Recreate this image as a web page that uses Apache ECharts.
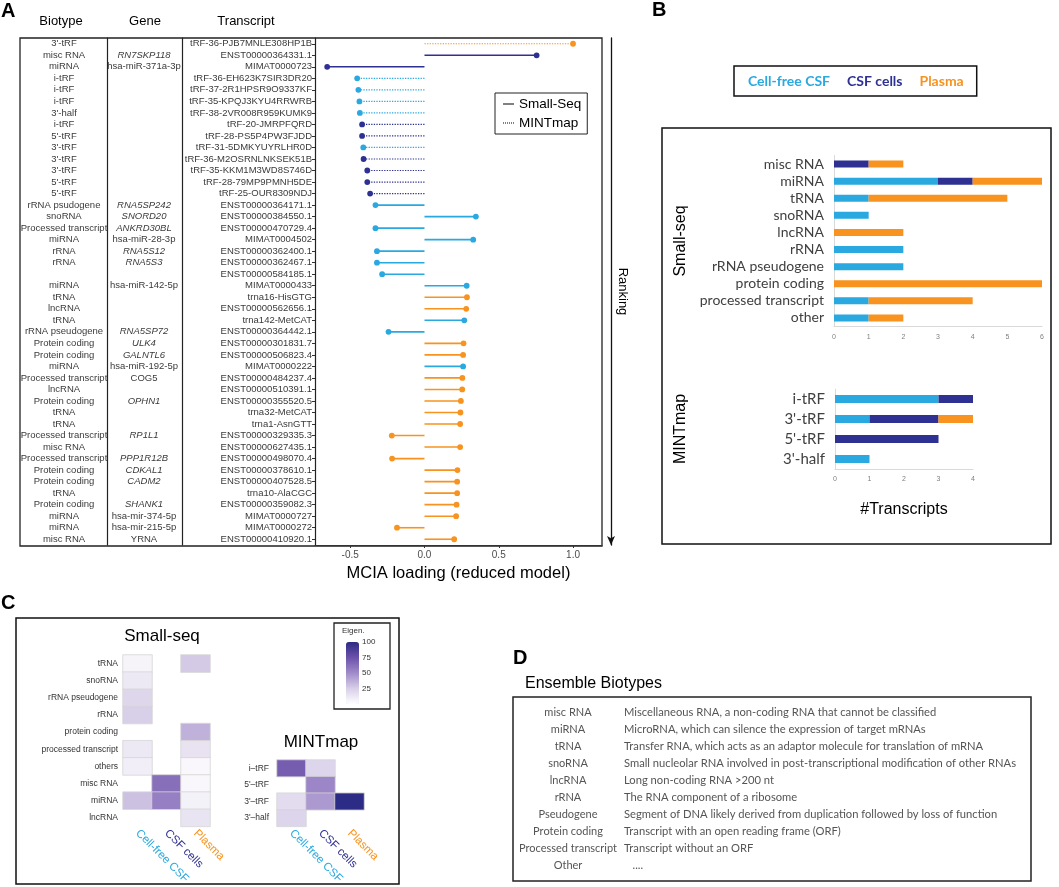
<!DOCTYPE html>
<html><head><meta charset="utf-8">
<script src="https://cdn.jsdelivr.net/npm/echarts@6/dist/echarts.min.js"></script>
<style>html,body{margin:0;padding:0;background:#fff}#c{width:1059px;height:887px}</style>
</head><body><div id="c"></div>
<script>
// ---------- Panel A data (top to bottom ranking) ----------
const biotypes = ["3'-tRF","misc RNA","miRNA","i-tRF","i-tRF","i-tRF","3'-half","i-tRF","5'-tRF","3'-tRF","3'-tRF","3'-tRF","5'-tRF","5'-tRF",
  "rRNA psudogene","snoRNA","Processed transcript","miRNA","rRNA","rRNA","","miRNA","tRNA","lncRNA","tRNA","rRNA pseudogene",
  "Protein coding","Protein coding","miRNA","Processed transcript","lncRNA","Protein coding","tRNA","tRNA","Processed transcript",
  "misc RNA","Processed transcript","Protein coding","Protein coding","tRNA","Protein coding","miRNA","miRNA","misc RNA"];
const genes = ["","RN7SKP118","hsa-miR-371a-3p","","","","","","","","","","","",
  "RNA5SP242","SNORD20","ANKRD30BL","hsa-miR-28-3p","RNA5S12","RNA5S3","","hsa-miR-142-5p","","","","RNA5SP72",
  "ULK4","GALNTL6","hsa-miR-192-5p","COG5","","OPHN1","","","RP1L1",
  "","PPP1R12B","CDKAL1","CADM2","","SHANK1","hsa-mir-374-5p","hsa-mir-215-5p","YRNA"];
const transcripts = ["tRF-36-PJB7MNLE308HP1B","ENST00000364331.1","MIMAT0000723","tRF-36-EH623K7SIR3DR20","tRF-37-2R1HPSR9O9337KF",
  "tRF-35-KPQJ3KYU4RRWRB","tRF-38-2VR008R959KUMK9","tRF-20-JMRPFQRD","tRF-28-PS5P4PW3FJDD","tRF-31-5DMKYUYRLHR0D",
  "tRF-36-M2OSRNLNKSEK51B","tRF-35-KKM1M3WD8S746D","tRF-28-79MP9PMNH5DE","tRF-25-OUR8309NDJ",
  "ENST00000364171.1","ENST00000384550.1","ENST00000470729.4","MIMAT0004502","ENST00000362400.1","ENST00000362467.1",
  "ENST00000584185.1","MIMAT0000433","trna16-HisGTG","ENST00000562656.1","trna142-MetCAT","ENST00000364442.1",
  "ENST00000301831.7","ENST00000506823.4","MIMAT0000222","ENST00000484237.4","ENST00000510391.1","ENST00000355520.5",
  "trna32-MetCAT","trna1-AsnGTT","ENST00000329335.3","ENST00000627435.1","ENST00000498070.4","ENST00000378610.1",
  "ENST00000407528.5","trna10-AlaCGC","ENST00000359082.3","MIMAT0000727","MIMAT0000272","ENST00000410920.1"];
const loadings = [1.00,0.755,-0.655,-0.453,-0.445,-0.438,-0.435,-0.42,-0.42,-0.412,-0.41,-0.385,-0.385,-0.366,
  -0.33,0.346,-0.33,0.328,-0.32,-0.32,-0.285,0.284,0.286,0.281,0.268,-0.242,
  0.263,0.26,0.26,0.255,0.254,0.245,0.242,0.24,-0.22,0.24,-0.218,0.222,0.22,0.22,0.216,0.213,-0.185,0.20];
const sources = ["Plasma","CSF cells","CSF cells","Cell-free CSF","Cell-free CSF","Cell-free CSF","Cell-free CSF","CSF cells","CSF cells",
  "Cell-free CSF","CSF cells","CSF cells","CSF cells","CSF cells",
  "Cell-free CSF","Cell-free CSF","Cell-free CSF","Cell-free CSF","Cell-free CSF","Cell-free CSF","Cell-free CSF","Cell-free CSF",
  "Plasma","Plasma","Cell-free CSF","Cell-free CSF","Plasma","Plasma","Cell-free CSF","Plasma","Plasma","Plasma","Plasma","Plasma",
  "Plasma","Plasma","Plasma","Plasma","Plasma","Plasma","Plasma","Plasma","Plasma","Plasma"];
const methods = ["MINTmap","Small-Seq","Small-Seq","MINTmap","MINTmap","MINTmap","MINTmap","MINTmap","MINTmap","MINTmap","MINTmap",
  "MINTmap","MINTmap","MINTmap"].concat(new Array(30).fill("Small-Seq"));
const italicGenes = ["RN7SKP118","RNA5SP242","SNORD20","ANKRD30BL","RNA5S12","RNA5S3","RNA5SP72","ULK4","GALNTL6","OPHN1",
  "RP1L1","PPP1R12B","CDKAL1","CADM2","SHANK1"];
const loadingTicks = [-0.5, 0, 0.5, 1.0];

// ---------- Panel B data ----------
const sampleTypes = ["Cell-free CSF","CSF cells","Plasma"];
const smallSeqCats = ["misc RNA","miRNA","tRNA","snoRNA","lncRNA","rRNA","rRNA pseudogene","protein coding","processed transcript","other"];
const smallSeqCF     = [0,3,1,1,0,2,2,0,1,1];
const smallSeqCells  = [1,1,0,0,0,0,0,0,0,0];
const smallSeqPlasma = [1,2,4,0,2,0,0,6,3,1];
const mintCats = ["i-tRF","3'-tRF","5'-tRF","3'-half"];
const mintCF     = [3,1,0,1];
const mintCells  = [1,2,3,0];
const mintPlasma = [0,1,0,0];

// ---------- Panel C data (eigen values, 0-100) ----------
const heatSmallRows = ["tRNA","snoRNA","rRNA pseudogene","rRNA","protein coding","processed transcript","others","misc RNA","miRNA","lncRNA"];
const heatSmallCF     = [6,12,21,25,null,12,9,null,30,null];
const heatSmallCells  = [null,null,null,null,null,null,null,62,55,null];
const heatSmallPlasma = [27,null,null,null,36,15,4,4,7,14];
const heatMintRows = ["i\u2013tRF","5'\u2013tRF","3'\u2013tRF","3'\u2013half"];
const heatMintCF     = [70,null,18,22];
const heatMintCells  = [22,52,45,null];
const heatMintPlasma = [null,null,100,null];

// ---------- Panel D data ----------
const ensTypes = ["misc RNA","miRNA","tRNA","snoRNA","lncRNA","rRNA","Pseudogene","Protein coding","Processed transcript","Other"];
const ensDesc = ["Miscellaneous RNA, a non-coding RNA that cannot be classified",
  "MicroRNA, which can silence the expression of target mRNAs",
  "Transfer RNA, which acts as an adaptor molecule for translation of mRNA",
  "Small nucleolar RNA involved in post-transcriptional modification of other RNAs",
  "Long non-coding RNA >200 nt",
  "The RNA component of a ribosome",
  "Segment of DNA likely derived from duplication followed by loss of function",
  "Transcript with an open reading frame (ORF)",
  "Transcript without an ORF",
  "   ...."];

// ---------- styling ----------
const COL = {"Cell-free CSF":"#2aa8e0","CSF cells":"#2e3192","Plasma":"#f7931e"};
const ARIAL = "'Liberation Sans', Arial, sans-serif";
const CAL = "Lato, 'Open Sans', sans-serif";
const SOLID_ICON = 'path://M0,0H11V1H0Z';
const DOT_ICON = 'path://M0,0h1v1h-1zM2,0h1v1h-1zM4,0h1v1h-1zM6,0h1v1h-1zM8,0h1v1h-1zM10,0h1v1h-1z';

function heatData(cols){
  const out=[];
  cols.forEach((arr,c)=>arr.forEach((v,r)=>{ if(v!=null) out.push([c,r,v]); }));
  return out;
}
function ttl(text,left,top,size,extra){
  return Object.assign({text:text,left:left,top:top,padding:0,
    textStyle:{fontSize:size,fontWeight:'normal',color:'#000',fontFamily:ARIAL}}, extra||{});
}

const chart = echarts.init(document.getElementById('c'));
const hidden = {show:false};
const noLine = {show:false, onZero:false};
const bold = {textStyle:{fontSize:20,fontWeight:'bold',color:'#000',fontFamily:ARIAL}};

const option = {
  animation:false,
  backgroundColor:'#fff',
  textStyle:{fontFamily:ARIAL},
  title:[
    ttl('A',1,1,20,bold),
    ttl('B',652,0,20,bold),
    ttl('C',1,593,20,bold),
    ttl('D',513,648,20,bold),
    ttl('Biotype',61,15,13,{textAlign:'center'}),
    ttl('Gene',145,15,13,{textAlign:'center'}),
    ttl('Transcript',246,15,13,{textAlign:'center'}),
    ttl('Small-seq',162,628,17,{textAlign:'center'}),
    ttl('MINTmap',321,734,17,{textAlign:'center'}),
    ttl('Eigen.',342,627,8,{textStyle:{fontSize:8,fontWeight:'normal',color:'#333',fontFamily:ARIAL}}),
    ttl('Ensemble Biotypes',525,676,16)
  ],
  legend:[
    {data:[{name:'Small-Seq',icon:SOLID_ICON},{name:'MINTmap',icon:DOT_ICON}], left:495, top:93, orient:'vertical', selectedMode:false,
     borderColor:'#222', borderWidth:1, padding:[4,6,4,8], itemGap:5, itemWidth:11, itemHeight:1.4,
     textStyle:{fontSize:13.5,color:'#000',fontFamily:ARIAL}},
    {data:sampleTypes.map(n=>({name:n, textStyle:{color:COL[n]}})), left:734, top:66, selectedMode:false,
     icon:'none', itemWidth:0, itemHeight:0, itemGap:12,
     borderColor:'#111', borderWidth:1.5, padding:[8,13,8,9],
     textStyle:{fontSize:14,fontWeight:'bold',fontFamily:CAL}}
  ],
  grid:[
    {left:315, right:457, top:38, height:507},           // A
    {left:834, width:208, top:155.5, height:171},        // B small-seq
    {left:835, width:138, top:389, height:80},           // B MINTmap
    {left:123, width:87, top:655, height:175},           // C small-seq
    {left:277, width:87, top:760, height:70},            // C MINTmap
    {left:346, width:13, top:642, height:62},            // C colour legend axis
    {left:513, width:400, top:703.5, height:170}         // D
  ],
  xAxis:[
    {gridIndex:0, type:'value', min:-0.737, max:1.195,
     axisLine:{show:true,onZero:false,lineStyle:{color:'#333',width:1.2}},
     axisTick:{show:true,length:3,customValues:loadingTicks,lineStyle:{color:'#333'}},
     axisLabel:{customValues:loadingTicks, fontSize:10, color:'#4d4d4d', margin:5, formatter:v=>v.toFixed(1)},
     splitLine:hidden,
     name:'MCIA loading (reduced model)', nameLocation:'middle', nameGap:17, nameTextStyle:{fontSize:16.5,color:'#000'}},
    {gridIndex:1, type:'value', min:0, max:6, interval:1,
     axisLine:{show:true,onZero:false,lineStyle:{color:'#d9d9d9'}}, axisTick:hidden, splitLine:hidden,
     axisLabel:{fontSize:7,color:'#808080',margin:7}},
    {gridIndex:2, type:'value', min:0, max:4, interval:1,
     axisLine:{show:true,onZero:false,lineStyle:{color:'#d9d9d9'}}, axisTick:hidden, splitLine:hidden,
     axisLabel:{fontSize:7,color:'#808080',margin:7},
     name:'#Transcripts', nameLocation:'middle', nameGap:33, nameTextStyle:{fontSize:16,color:'#000'}},
    {gridIndex:3, type:'category', data:sampleTypes.map(n=>({value:n,textStyle:{color:COL[n]}})),
     axisLine:noLine, axisTick:hidden, axisLabel:{rotate:-45, fontSize:11.5, margin:5, interval:0}},
    {gridIndex:4, type:'category', data:sampleTypes.map(n=>({value:n,textStyle:{color:COL[n]}})),
     axisLine:noLine, axisTick:hidden, axisLabel:{rotate:-45, fontSize:11.5, margin:5, interval:0}},
    {gridIndex:5, type:'category', data:['e'], show:false},
    {gridIndex:6, type:'value', min:0, max:1, show:false}
  ],
  yAxis:[
    {gridIndex:0, type:'category', data:transcripts, inverse:true, position:'left',
     axisLine:{show:true,onZero:false,lineStyle:{color:'#222',width:1.2}},
     axisTick:{show:true,length:3,alignWithLabel:true,lineStyle:{color:'#333'}},
     axisLabel:{interval:0,fontSize:9.5,color:'#3a3a3a',margin:3}},
    {gridIndex:0, type:'category', data:biotypes, inverse:true, position:'left', offset:208,
     axisLine:{show:true,onZero:false,lineStyle:{color:'#222',width:1.2}}, axisTick:hidden,
     axisLabel:{interval:0,fontSize:9.5,color:'#3a3a3a',margin:43,align:'center'}},
    {gridIndex:0, type:'category', data:genes, inverse:true, position:'left', offset:133,
     axisLine:{show:true,onZero:false,lineStyle:{color:'#222',width:1.2}}, axisTick:hidden,
     axisLabel:{interval:0,fontSize:9.5,color:'#3a3a3a',margin:38,align:'center',
       formatter:v=>italicGenes.indexOf(v)>=0?'{i|'+v+'}':v,
       rich:{i:{fontStyle:'italic',fontSize:9.5,color:'#3a3a3a'}}}},
    {gridIndex:0, type:'category', data:transcripts, inverse:true, position:'right', offset:9,
     axisLine:{show:true,onZero:false,symbol:['arrow','none'],symbolSize:[6,9],lineStyle:{color:'#111',width:1.3}},
     axisTick:hidden, axisLabel:hidden,
     name:'Ranking', nameLocation:'middle', nameRotate:-90, nameGap:5, nameTextStyle:{fontSize:13,color:'#000'}},
    {gridIndex:1, type:'category', data:smallSeqCats, inverse:true,
     axisLine:{show:true,onZero:false,lineStyle:{color:'#d9d9d9'}}, axisTick:hidden,
     axisLabel:{interval:0,fontSize:14,color:'#404040',margin:10,fontFamily:CAL},
     name:'Small-seq', nameLocation:'middle', nameRotate:90, nameGap:145, nameTextStyle:{fontSize:16,color:'#000'}},
    {gridIndex:2, type:'category', data:mintCats, inverse:true,
     axisLine:{show:true,onZero:false,lineStyle:{color:'#d9d9d9'}}, axisTick:hidden,
     axisLabel:{interval:0,fontSize:15,color:'#404040',margin:10,fontFamily:CAL},
     name:'MINTmap', nameLocation:'middle', nameRotate:90, nameGap:146, nameTextStyle:{fontSize:16,color:'#000'}},
    {gridIndex:3, type:'category', data:heatSmallRows, inverse:true,
     axisLine:noLine, axisTick:hidden, axisLabel:{interval:0,fontSize:8.5,color:'#333',margin:5}},
    {gridIndex:4, type:'category', data:heatMintRows, inverse:true,
     axisLine:noLine, axisTick:hidden, axisLabel:{interval:0,fontSize:8.5,color:'#333',margin:8}},
    {gridIndex:5, type:'value', min:0, max:100, interval:25, position:'right',
     axisLine:noLine, axisTick:hidden, splitLine:hidden,
     axisLabel:{fontSize:8,color:'#333',margin:3,formatter:v=>v===0?'':String(v)}},
    {gridIndex:6, type:'category', data:ensTypes, inverse:true, position:'left',
     axisLine:noLine, axisTick:hidden,
     axisLabel:{inside:true, interval:0, align:'center', margin:55, fontSize:11, color:'#555', fontFamily:CAL}},
    {gridIndex:6, type:'category', data:ensDesc, inverse:true, position:'left',
     axisLine:noLine, axisTick:hidden,
     axisLabel:{inside:true, interval:0, align:'left', margin:111, fontSize:11.2, color:'#555', fontFamily:CAL}}
  ],
  visualMap:{type:'continuous', min:0, max:100, seriesIndex:[9,10], calculable:false, showLabel:false,
    left:346, top:642, itemWidth:13, itemHeight:62, padding:0, orient:'vertical', hoverLink:false,
    inRange:{color:['#ffffff','#d8cfe8','#a08bc9','#6c51aa','#2c2b85']}},
  series:[
    {type:'custom', xAxisIndex:0, yAxisIndex:0, encode:{x:0,y:1}, silent:true,
     data:loadings.map((v,i)=>[v,i]),
     renderItem:function(params, api){
       const i = params.dataIndex;
       const p0 = api.coord([0, api.value(1)]);
       const p1 = api.coord([api.value(0), api.value(1)]);
       const col = COL[sources[i]];
       const dotted = methods[i]==='MINTmap';
       return {type:'group', children:[
         {type:'line', shape:{x1:p0[0],y1:p0[1],x2:p1[0],y2:p1[1]},
          style:{stroke:col, lineWidth:dotted?1.2:1.6, lineDash:dotted?[1.3,1.3]:null}},
         {type:'circle', shape:{cx:p1[0],cy:p1[1],r:2.9}, style:{fill:col}}
       ]};
     }},
    {name:'Small-Seq', type:'line', xAxisIndex:0, yAxisIndex:0, data:[], symbol:'none', lineStyle:{color:'#000',width:1.5,type:'solid'}, itemStyle:{color:'#000'}},
    {name:'MINTmap', type:'line', xAxisIndex:0, yAxisIndex:0, data:[], symbol:'none', lineStyle:{color:'#000',width:1,type:'dotted'}, itemStyle:{color:'#000'}},
    {name:'Cell-free CSF', type:'bar', stack:'s', xAxisIndex:1, yAxisIndex:4, barWidth:7, data:smallSeqCF, itemStyle:{color:COL['Cell-free CSF']}},
    {name:'CSF cells', type:'bar', stack:'s', xAxisIndex:1, yAxisIndex:4, barWidth:7, data:smallSeqCells, itemStyle:{color:COL['CSF cells']}},
    {name:'Plasma', type:'bar', stack:'s', xAxisIndex:1, yAxisIndex:4, barWidth:7, data:smallSeqPlasma, itemStyle:{color:COL['Plasma']}},
    {name:'Cell-free CSF', type:'bar', stack:'m', xAxisIndex:2, yAxisIndex:5, barWidth:8, data:mintCF, itemStyle:{color:COL['Cell-free CSF']}},
    {name:'CSF cells', type:'bar', stack:'m', xAxisIndex:2, yAxisIndex:5, barWidth:8, data:mintCells, itemStyle:{color:COL['CSF cells']}},
    {name:'Plasma', type:'bar', stack:'m', xAxisIndex:2, yAxisIndex:5, barWidth:8, data:mintPlasma, itemStyle:{color:COL['Plasma']}},
    {type:'heatmap', xAxisIndex:3, yAxisIndex:6, data:heatData([heatSmallCF,heatSmallCells,heatSmallPlasma]),
     itemStyle:{borderColor:'#d6d6d6',borderWidth:0.8}, emphasis:{disabled:true}},
    {type:'heatmap', xAxisIndex:4, yAxisIndex:7, data:heatData([heatMintCF,heatMintCells,heatMintPlasma]),
     itemStyle:{borderColor:'#d6d6d6',borderWidth:0.8}, emphasis:{disabled:true}}
  ],
  graphic:[
    {type:'rect', shape:{x:20,y:38,width:582,height:508}, style:{fill:null,stroke:'#222',lineWidth:1.3}, silent:true},
    {type:'rect', shape:{x:662,y:128,width:389,height:416}, style:{fill:null,stroke:'#111',lineWidth:1.5}, silent:true},
    {type:'rect', shape:{x:16,y:618,width:383,height:266}, style:{fill:null,stroke:'#111',lineWidth:1.5}, silent:true},
    {type:'rect', shape:{x:334,y:623,width:56,height:86}, style:{fill:null,stroke:'#222',lineWidth:1.3}, silent:true},
    {type:'rect', shape:{x:513,y:697,width:518,height:184}, style:{fill:null,stroke:'#222',lineWidth:1.5}, silent:true}
  ]
};
chart.setOption(option);
</script></body></html>
